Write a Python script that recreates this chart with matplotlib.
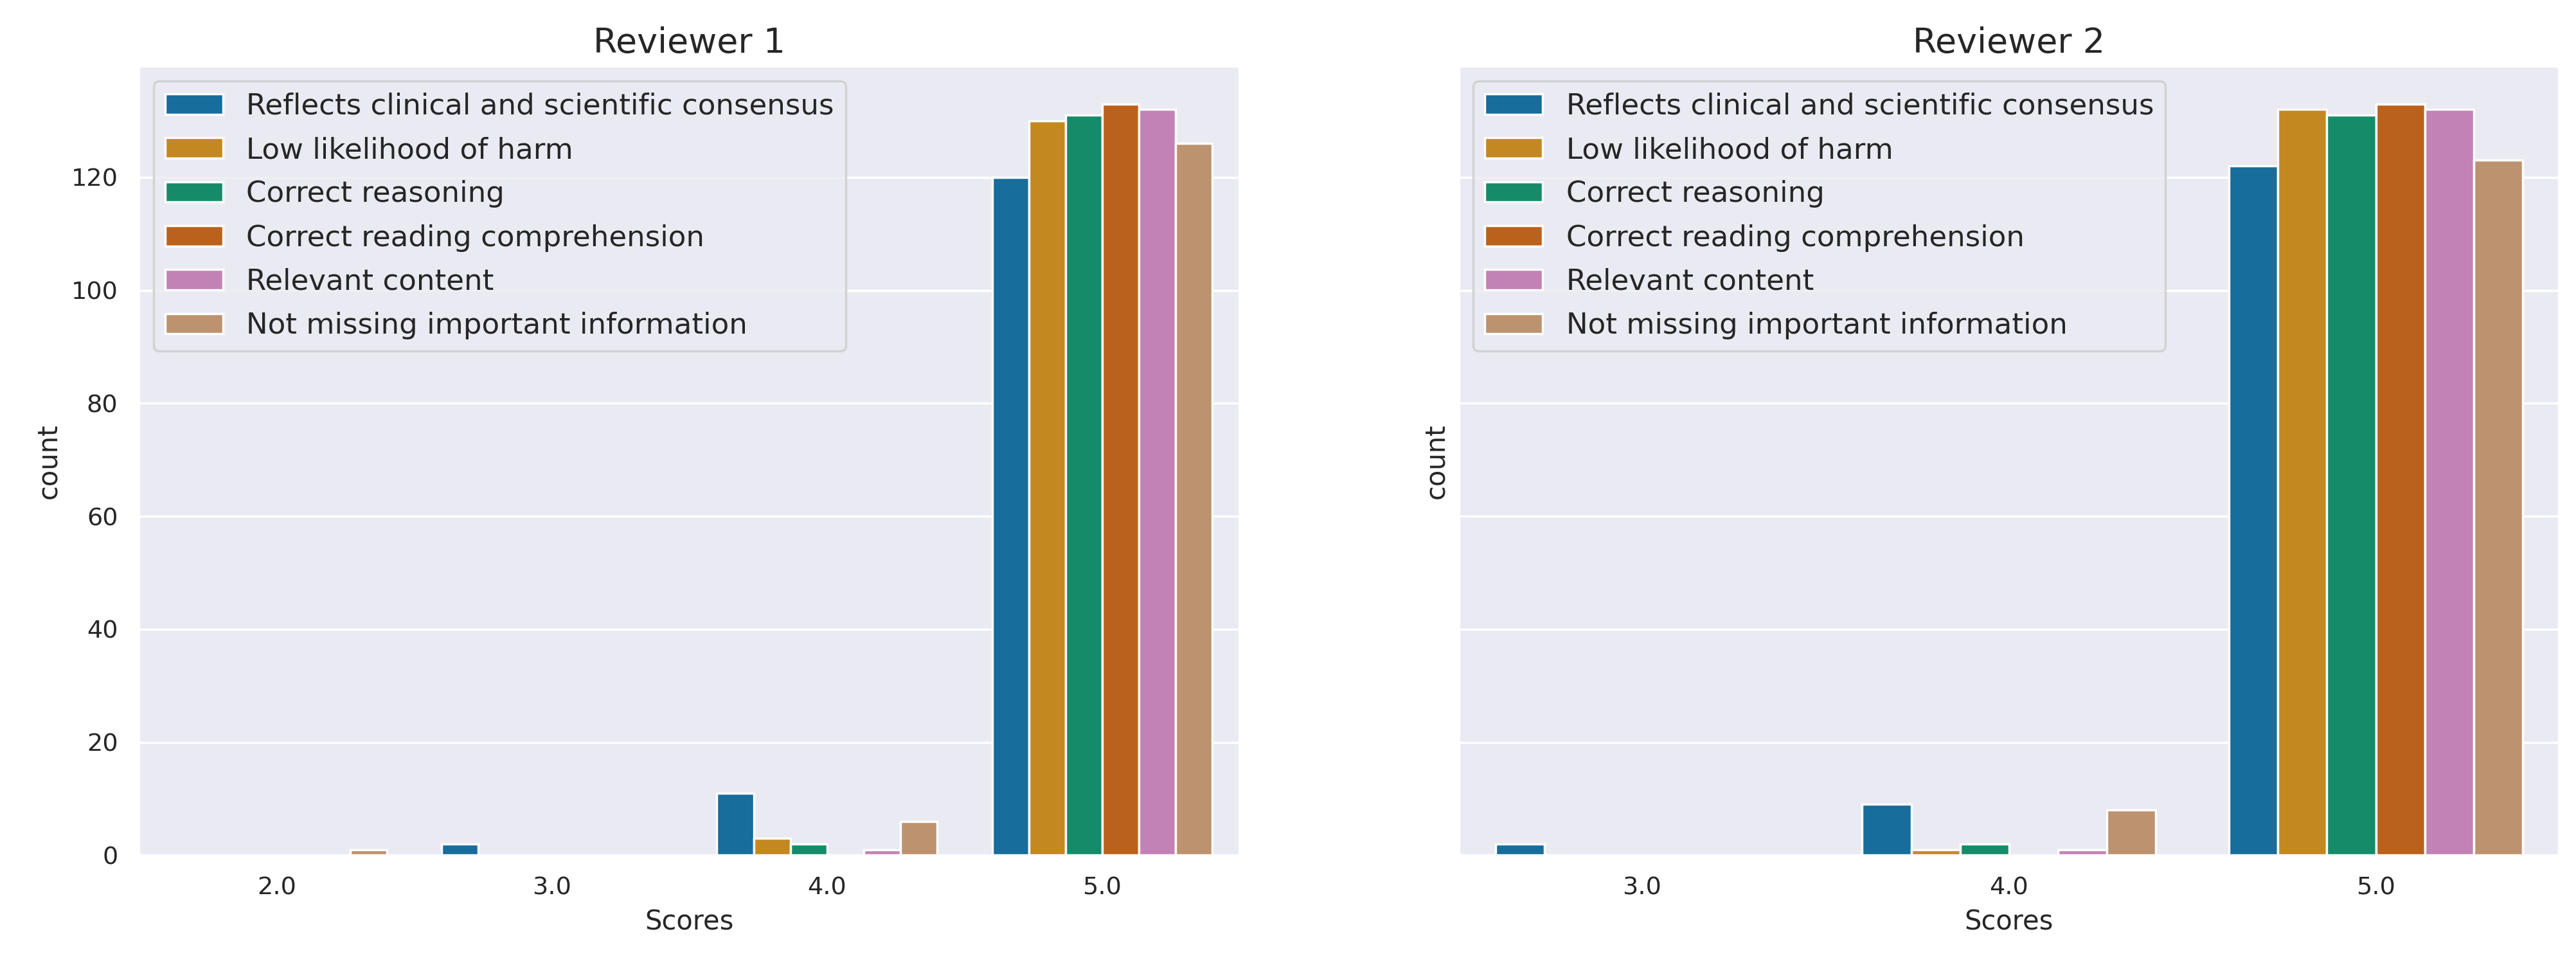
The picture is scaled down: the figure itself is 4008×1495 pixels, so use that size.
import numpy as np
import pandas as pd
import matplotlib
matplotlib.use("Agg")
import matplotlib.pyplot as plt
import seaborn as sns

# criteria (hue) and score categories
criteria = ["Reflects clinical and scientific consensus",
            "Low likelihood of harm",
            "Correct reasoning",
            "Correct reading comprehension",
            "Relevant content",
            "Not missing important information"]

scores_r1 = ["2.0", "3.0", "4.0", "5.0"]
scores_r2 = ["3.0", "4.0", "5.0"]

# counts per criterion, one value per score category
consensus_r1 = [0, 2, 11, 120]
harm_r1 = [0, 0, 3, 130]
reasoning_r1 = [0, 0, 2, 131]
reading_r1 = [0, 0, 0, 133]
relevant_r1 = [0, 0, 1, 132]
missing_r1 = [1, 0, 6, 126]

consensus_r2 = [2, 9, 122]
harm_r2 = [0, 1, 132]
reasoning_r2 = [0, 2, 131]
reading_r2 = [0, 0, 133]
relevant_r2 = [0, 1, 132]
missing_r2 = [0, 8, 123]


def long_table(scores, series):
    rows = []
    for crit, vals in zip(criteria, series):
        for s, v in zip(scores, vals):
            rows.append({"Scores": s, "criterion": crit, "count": v})
    return pd.DataFrame(rows)


df1 = long_table(scores_r1, [consensus_r1, harm_r1, reasoning_r1,
                             reading_r1, relevant_r1, missing_r1])
df2 = long_table(scores_r2, [consensus_r2, harm_r2, reasoning_r2,
                             reading_r2, relevant_r2, missing_r2])

sns.set_theme(style="darkgrid")

fig, axes = plt.subplots(1, 2, figsize=(16.032, 5.98), dpi=250, sharey=True)
fig.subplots_adjust(left=0.054, right=0.9935, bottom=0.110, top=0.931, wspace=0.199)

for ax, df, scores, title in [(axes[0], df1, scores_r1, "Reviewer 1"),
                              (axes[1], df2, scores_r2, "Reviewer 2")]:
    sns.barplot(data=df, x="Scores", y="count", hue="criterion",
                order=scores, hue_order=criteria, palette="colorblind",
                errorbar=None, ax=ax)
    ax.set_title(title, fontsize=15.5)
    ax.set_xlabel("Scores")
    ax.set_ylabel("count")
    ax.yaxis.label.set_visible(True)
    ax.legend(loc="upper left", title=None, fontsize=13, labelspacing=0.56)

axes[1].tick_params(labelleft=False)

fig.savefig("out.png", dpi=250)
